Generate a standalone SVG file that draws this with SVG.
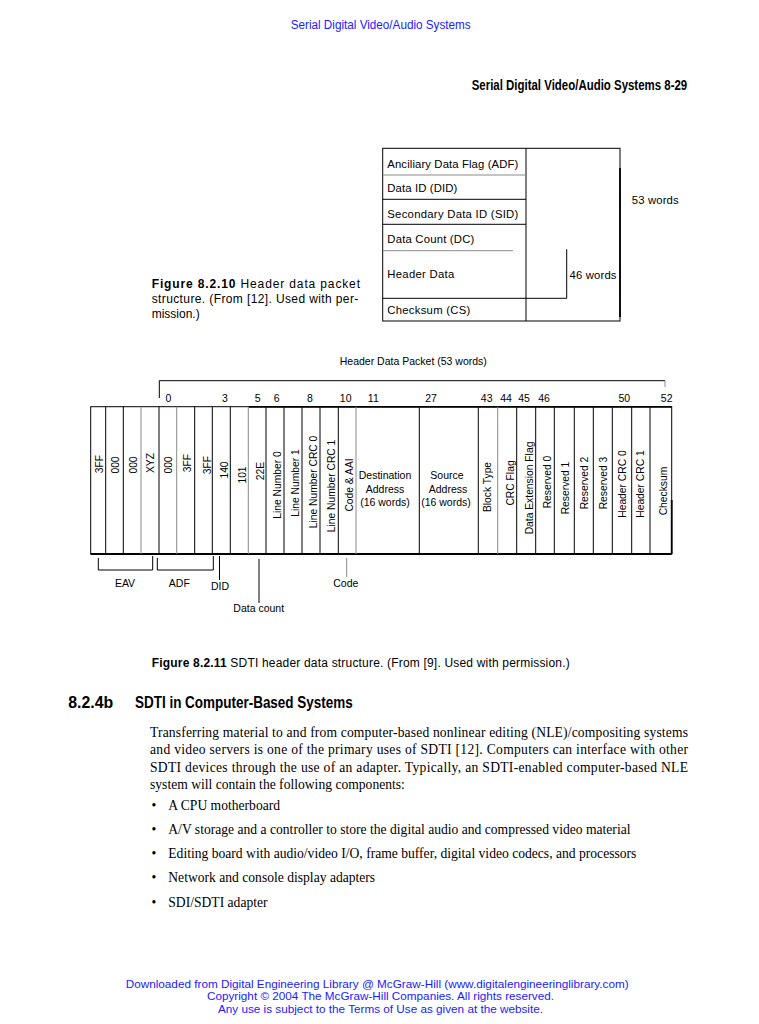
<svg xmlns="http://www.w3.org/2000/svg" width="759" height="1024" viewBox="0 0 759 1024">
<style>
  .sans{font-family:"Liberation Sans",Arial,sans-serif;fill:#000}
  .serif{font-family:"Liberation Serif","Times New Roman",serif;fill:#000;font-size:13.6px}
  .blue{font-family:"Liberation Sans",Arial,sans-serif;fill:#1a1aff;font-size:12px}
  .foot{font-size:10.8px}
  .hd{font-family:"Liberation Sans",Arial,sans-serif;font-weight:bold;fill:#000}
  .row{font-size:11.3px}
  .vt{font-size:10.3px;text-anchor:middle}
  .lab{font-size:10.5px}
  .mid{text-anchor:middle}
  .ln{stroke:#000;stroke-width:1;fill:none}
  .lg{stroke:#8a8a8a;stroke-width:1;fill:none}
  .thick{stroke:#000;stroke-width:1.8;fill:none}
</style>
<rect width="759" height="1024" fill="#fff"/>

<!-- page header -->
<text class="blue" x="290.7" y="29.3" textLength="180" lengthAdjust="spacingAndGlyphs">Serial Digital Video/Audio Systems</text>
<text class="hd" transform="translate(471.7,90) scale(0.738,1)" font-size="15.5" textLength="292" lengthAdjust="spacingAndGlyphs">Serial Digital Video/Audio Systems 8-29</text>

<!-- Figure 8.2.10 -->
<g id="fig-8-2-10">
  <g id="outer-box">
    <rect class="ln" x="382.7" y="148.3" width="237.3" height="172.7"/>
    <line class="thick" x1="620" y1="168" x2="620" y2="317"/>
    <line class="ln" x1="526" y1="148.3" x2="526" y2="321"/>
  </g>
  <g id="row-adf">
    <text class="sans row" x="387.3" y="168.3" textLength="131" lengthAdjust="spacing">Anciliary Data Flag (ADF)</text>
    <line class="lg" x1="382.7" y1="175" x2="526" y2="175"/>
  </g>
  <g id="row-did">
    <text class="sans row" x="387.3" y="191.7" textLength="70">Data ID (DID)</text>
    <line class="ln" x1="382.7" y1="199.3" x2="526" y2="199.3"/>
  </g>
  <g id="row-sid">
    <text class="sans row" x="387.3" y="217.7" textLength="131">Secondary Data ID (SID)</text>
    <line class="ln" x1="382.7" y1="224.3" x2="526" y2="224.3"/>
  </g>
  <g id="row-dc">
    <text class="sans row" x="387.3" y="243.3" textLength="87">Data Count (DC)</text>
    <line class="lg" x1="382.7" y1="250.7" x2="513" y2="250.7" stroke="#bbb"/>
  </g>
  <g id="row-header">
    <text class="sans row" x="387.3" y="278" textLength="67">Header Data</text>
  </g>
  <g id="row-cs">
    <line class="ln" x1="382.7" y1="298.3" x2="566.7" y2="298.3"/>
    <text class="sans row" x="387.3" y="313.5" textLength="83">Checksum (CS)</text>
  </g>
  <g id="bracket-46">
    <line class="ln" x1="566.7" y1="249.3" x2="566.7" y2="298.3"/>
    <text class="sans row" x="569.5" y="278.5" textLength="47">46 words</text>
  </g>
  <g id="label-53">
    <text class="sans row" x="631.7" y="203.5" textLength="47">53 words</text>
  </g>
</g>

<g id="caption-8-2-10" class="sans" font-size="12">
  <text x="151.7" y="288.3" textLength="208.3" lengthAdjust="spacing"><tspan font-weight="bold">Figure 8.2.10</tspan> Header data packet</text>
  <text x="151.7" y="303.3" textLength="206.6" lengthAdjust="spacing">structure. (From [12]. Used with per-</text>
  <text x="151.7" y="318.3">mission.)</text>
</g>

<!-- Figure 8.2.11 -->
<g id="fig-8-2-11">
  <g id="packet-bracket">
    <text class="sans lab mid" x="413.3" y="365">Header Data Packet (53 words)</text>
    <line class="ln" x1="159.3" y1="380.7" x2="665" y2="380.7"/>
    <line class="ln" x1="159.3" y1="380.7" x2="159.3" y2="398"/>
    <line class="lg" x1="665" y1="380.7" x2="665" y2="387"/>
  </g>
  <g id="word-numbers" class="sans lab mid">
    <text x="168.3" y="401.5">0</text>
    <text x="225" y="401.5">3</text>
    <text x="257.7" y="401.5">5</text>
    <text x="276.7" y="401.5">6</text>
    <text x="310" y="401.5">8</text>
    <text x="345.7" y="401.5">10</text>
    <text x="373.3" y="401.5">11</text>
    <text x="431" y="401.5">27</text>
    <text x="486.7" y="401.5">43</text>
    <text x="506" y="401.5">44</text>
    <text x="524" y="401.5">45</text>
    <text x="544" y="401.5">46</text>
    <text x="624.3" y="401.5">50</text>
    <text x="666.7" y="401.5">52</text>
  </g>
  <g id="table-frame">
    <rect class="ln" x="90.7" y="406.7" width="581" height="147.3"/>
    <line class="thick" x1="248.3" y1="406.9" x2="671.7" y2="406.9" stroke-width="1.4"/>
    <line class="thick" x1="90.7" y1="554" x2="671.7" y2="554"/>
    <line class="thick" x1="671.7" y1="500" x2="671.7" y2="554"/>
  </g>

  <g id="col-1"><line class="ln" x1="105.7" y1="406.7" x2="105.7" y2="554"/><text class="sans vt" transform="translate(102.5,464) rotate(-90)">3FF</text></g>
  <g id="col-2"><line class="ln" x1="123.3" y1="406.7" x2="123.3" y2="554"/><text class="sans vt" transform="translate(119,465) rotate(-90)">000</text></g>
  <g id="col-3"><line class="lg" x1="141" y1="406.7" x2="141" y2="554"/><text class="sans vt" transform="translate(137.3,465) rotate(-90)">000</text></g>
  <g id="col-4"><line class="ln" x1="159" y1="406.7" x2="159" y2="554"/><text class="sans vt" transform="translate(154,463) rotate(-90)">XYZ</text></g>
  <g id="col-5"><line class="lg" x1="176.7" y1="406.7" x2="176.7" y2="554"/><text class="sans vt" transform="translate(172.3,465) rotate(-90)">000</text></g>
  <g id="col-6"><line class="ln" x1="194.7" y1="406.7" x2="194.7" y2="554"/><text class="sans vt" transform="translate(191.2,463) rotate(-90)">3FF</text></g>
  <g id="col-7"><line class="ln" x1="212.3" y1="406.7" x2="212.3" y2="554"/><text class="sans vt" transform="translate(210.6,465) rotate(-90)">3FF</text></g>
  <g id="col-8"><line class="ln" x1="230.3" y1="406.7" x2="230.3" y2="554"/><text class="sans vt" transform="translate(227.6,470) rotate(-90)">140</text></g>
  <g id="col-9"><line class="lg" x1="248.3" y1="406.7" x2="248.3" y2="554"/><text class="sans vt" transform="translate(245.6,475) rotate(-90)">101</text></g>
  <g id="col-10"><line class="ln" x1="266" y1="406.7" x2="266" y2="554"/><text class="sans vt" transform="translate(263.6,471) rotate(-90)">22E</text></g>
  <g id="col-11"><line class="ln" x1="284" y1="406.7" x2="284" y2="554"/><text class="sans vt" transform="translate(280.9,485) rotate(-90)">Line Number 0</text></g>
  <g id="col-12"><line class="ln" x1="302" y1="406.7" x2="302" y2="554"/><text class="sans vt" transform="translate(298.6,483) rotate(-90)">Line Number 1</text></g>
  <g id="col-13"><line class="ln" x1="320" y1="406.7" x2="320" y2="554"/><text class="sans vt" transform="translate(316.9,482) rotate(-90)">Line Number CRC 0</text></g>
  <g id="col-14"><line class="ln" x1="338.3" y1="406.7" x2="338.3" y2="554"/><text class="sans vt" transform="translate(334.6,486) rotate(-90)">Line Number CRC 1</text></g>
  <g id="col-15"><line class="lg" x1="356" y1="406.7" x2="356" y2="554"/><text class="sans vt" transform="translate(352.6,485) rotate(-90)">Code &amp; AAI</text></g>
  <g id="col-dest" class="sans lab mid">
    <line class="ln" x1="419.3" y1="406.7" x2="419.3" y2="554"/>
    <text x="385" y="479">Destination</text>
    <text x="385" y="492.5">Address</text>
    <text x="385" y="506">(16 words)</text>
  </g>
  <g id="col-source" class="sans lab mid">
    <line class="ln" x1="478.3" y1="406.7" x2="478.3" y2="554"/>
    <text x="447" y="479">Source</text>
    <text x="448" y="492.5">Address</text>
    <text x="446" y="506">(16 words)</text>
  </g>
  <g id="col-18"><line class="lg" x1="497.7" y1="406.7" x2="497.7" y2="554"/><text class="sans vt" transform="translate(491.2,487) rotate(-90)">Block Type</text></g>
  <g id="col-19"><line class="ln" x1="516.7" y1="406.7" x2="516.7" y2="554"/><text class="sans vt" transform="translate(513.9,483) rotate(-90)">CRC Flag</text></g>
  <g id="col-20"><line class="ln" x1="535.7" y1="406.7" x2="535.7" y2="554"/><text class="sans vt" transform="translate(532.6,488) rotate(-90)">Data Extension Flag</text></g>
  <g id="col-21"><line class="ln" x1="554.3" y1="406.7" x2="554.3" y2="554"/><text class="sans vt" transform="translate(550.9,482) rotate(-90)">Reserved 0</text></g>
  <g id="col-22"><line class="ln" x1="574.3" y1="406.7" x2="574.3" y2="554"/><text class="sans vt" transform="translate(569.3,488) rotate(-90)">Reserved 1</text></g>
  <g id="col-23"><line class="ln" x1="593.3" y1="406.7" x2="593.3" y2="554"/><text class="sans vt" transform="translate(588.3,483) rotate(-90)">Reserved 2</text></g>
  <g id="col-24"><line class="ln" x1="612.3" y1="406.7" x2="612.3" y2="554"/><text class="sans vt" transform="translate(606.9,483) rotate(-90)">Reserved 3</text></g>
  <g id="col-25"><line class="ln" x1="631.7" y1="406.7" x2="631.7" y2="554"/><text class="sans vt" transform="translate(625.9,484) rotate(-90)">Header CRC 0</text></g>
  <g id="col-26"><line class="ln" x1="650" y1="406.7" x2="650" y2="554"/><text class="sans vt" transform="translate(644.3,484) rotate(-90)">Header CRC 1</text></g>
  <g id="col-27"><text class="sans vt" transform="translate(666.6,491) rotate(-90)">Checksum</text></g>

  <g id="connectors">
    <polyline class="ln" points="98.3,558 98.3,570 152.7,570 152.7,556"/>
    <polyline class="ln" points="157.3,558 157.3,570 213.3,570 213.3,556"/>
    <line class="ln" x1="219.5" y1="556" x2="219.5" y2="580" stroke-width="1.3"/>
    <line class="ln" x1="259" y1="559" x2="259" y2="603"/>
    <line class="lg" x1="346.7" y1="558" x2="346.7" y2="577"/>
  </g>
  <g id="label-eav"><text class="sans lab mid" x="125" y="586.7">EAV</text></g>
  <g id="label-adf"><text class="sans lab mid" x="179.3" y="586.7">ADF</text></g>
  <g id="label-did"><text class="sans lab mid" x="220" y="590">DID</text></g>
  <g id="label-code"><text class="sans lab mid" x="345.8" y="587.3">Code</text></g>
  <g id="label-datacount"><text class="sans lab mid" x="258.7" y="611.7">Data count</text></g>
</g>

<g id="caption-8-2-11" class="sans" font-size="12">
  <text x="151.7" y="666.7" textLength="418" lengthAdjust="spacing"><tspan font-weight="bold">Figure 8.2.11</tspan> SDTI header data structure. (From [9]. Used with permission.)</text>
</g>

<!-- section heading -->
<text class="hd" x="68.3" y="708.3" font-size="16" textLength="45" lengthAdjust="spacingAndGlyphs">8.2.4b</text>
<text class="hd" x="135" y="708.3" font-size="16" textLength="217.7" lengthAdjust="spacingAndGlyphs">SDTI in Computer-Based Systems</text>

<!-- body text -->
<g id="body">
  <text class="serif" x="150" y="736.7" textLength="538" lengthAdjust="spacing">Transferring material to and from computer-based nonlinear editing (NLE)/compositing systems</text>
  <text class="serif" x="150" y="754.3" textLength="538" lengthAdjust="spacing">and video servers is one of the primary uses of SDTI [12]. Computers can interface with other</text>
  <text class="serif" x="150" y="771.8" textLength="538" lengthAdjust="spacing">SDTI devices through the use of an adapter. Typically, an SDTI-enabled computer-based NLE</text>
  <text class="serif" x="150" y="789.3">system will contain the following components:</text>
  <text class="serif" x="151.5" y="810">•</text><text class="serif" x="168.3" y="810">A CPU motherboard</text>
  <text class="serif" x="151.5" y="834.3">•</text><text class="serif" x="168.3" y="834.3">A/V storage and a controller to store the digital audio and compressed video material</text>
  <text class="serif" x="151.5" y="858.3">•</text><text class="serif" x="168.3" y="858.3">Editing board with audio/video I/O, frame buffer, digital video codecs, and processors</text>
  <text class="serif" x="151.5" y="882.3">•</text><text class="serif" x="168.3" y="882.3">Network and console display adapters</text>
  <text class="serif" x="151.5" y="906.5">•</text><text class="serif" x="168.3" y="906.5">SDI/SDTI adapter</text>
</g>

<!-- footer -->
<g id="footer">
  <text class="blue foot" x="125.7" y="988" textLength="503" lengthAdjust="spacingAndGlyphs">Downloaded from Digital Engineering Library @ McGraw-Hill (www.digitalengineeringlibrary.com)</text>
  <text class="blue foot" x="207" y="1000.3" textLength="347" lengthAdjust="spacingAndGlyphs">Copyright © 2004 The McGraw-Hill Companies. All rights reserved.</text>
  <text class="blue foot" x="218" y="1012.6" textLength="325" lengthAdjust="spacingAndGlyphs">Any use is subject to the Terms of Use as given at the website.</text>
</g>
</svg>
